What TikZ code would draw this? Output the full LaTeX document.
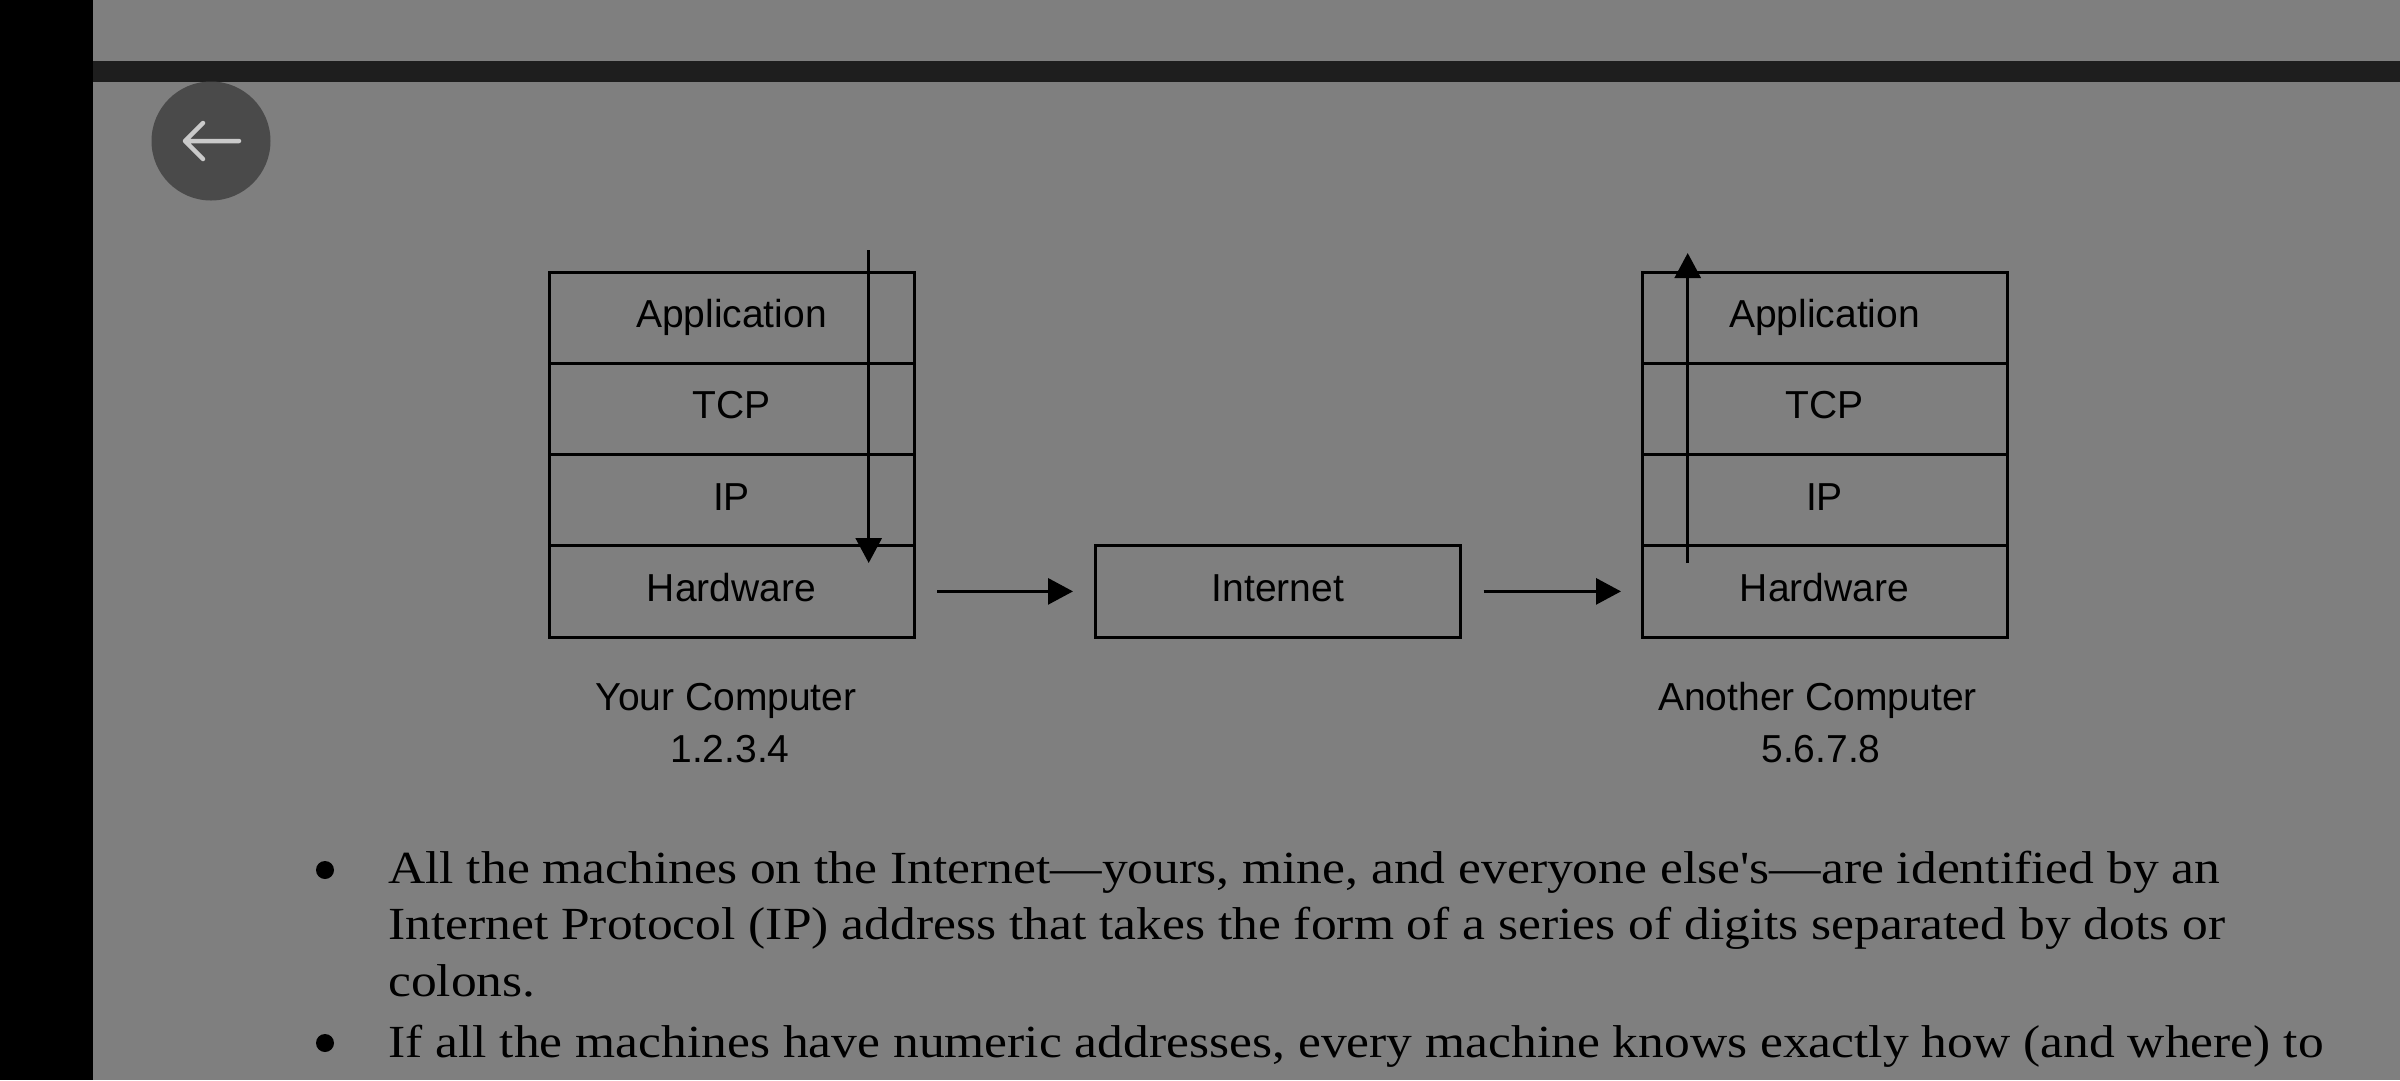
\documentclass[tikz,border=0pt]{standalone}
\usepackage{fontspec}
\setmainfont{Liberation Serif}
\newfontfamily\diagfont{Liberation Sans}
\newfontfamily\bodyfont[FakeStretch=1.12,Ligatures=TeXOff]{Liberation Serif}
\usetikzlibrary{arrows.meta}
\definecolor{pagebg}{HTML}{7F7F7F}
\definecolor{topbar}{HTML}{1E1E1E}
\definecolor{btnfill}{HTML}{4A4A4A}
\definecolor{btnicon}{HTML}{CACACA}
\begin{document}
\begin{tikzpicture}[x=1pt,y=-1pt,
  layer/.style={draw=black, line width=3pt, rectangle, minimum width=365pt,
    minimum height=91.25pt, inner sep=0pt, outer sep=0pt, anchor=north west,
    font=\diagfont\fontsize{39}{39}\selectfont, text height=28pt, text depth=8pt},
  caption/.style={font=\diagfont\fontsize{39}{39}\selectfont, anchor=base, inner sep=0pt},
  flow/.style={line width=3pt, -{Triangle[length=25pt,width=26pt]}},
  body/.style={font=\bodyfont\fontsize{46}{57}\selectfont, anchor=base west, inner sep=0pt},
  bul/.style={circle, fill=black, minimum size=18pt, inner sep=0pt}]

\useasboundingbox (0,0) rectangle (2400,1080);
\fill[pagebg] (0,0) rectangle (2400,1080);
\fill[black] (0,0) rectangle (93,1080);
\fill[topbar] (93,61) rectangle (2400,82);

% back button
\node[circle, fill=btnfill, minimum size=119pt, inner sep=0pt] (back) at (211,141) {};
\draw[btnicon, line width=4.5pt, line cap=round, line join=round]
  ([xshift=-26pt]back.center) -- ([xshift=28pt]back.center)
  ([xshift=-8pt,yshift=-18pt]back.center) -- ([xshift=-26pt]back.center)
  -- ([xshift=-8pt,yshift=18pt]back.center);

% your computer stack
\node[layer] (app1) at (549,272) {Application};
\node[layer] (tcp1) at (549,363.25) {TCP};
\node[layer] (ip1) at (549,454.5) {IP};
\node[layer] (hw1) at (549,545.75) {Hardware};

% internet
\node[layer, minimum width=365.6pt] (net) at (1095,545.75) {Internet};

% another computer stack
\node[layer] (app2) at (1642,272) {Application};
\node[layer] (tcp2) at (1642,363.25) {TCP};
\node[layer] (ip2) at (1642,454.5) {IP};
\node[layer] (hw2) at (1642,545.75) {Hardware};

% captions
\node[caption] (yourname) at (726,710) {Your Computer};
\node[caption] (youraddr) at (730,762) {1.2.3.4};
\node[caption] (othername) at (1817.5,710) {Another Computer};
\node[caption] (otheraddr) at (1821,762) {5.6.7.8};

% flows
\coordinate (sendtop) at (868.7,250);
\coordinate (sendtip) at (868.7,563);
\draw[flow] (sendtop) -- (sendtip);
\coordinate (recvfoot) at (1687.7,563);
\coordinate (recvtip) at (1687.7,253);
\draw[flow] (recvfoot) -- (recvtip);
\draw[flow, shorten <=23pt, shorten >=22pt] (hw1.east) -- (net.west);
\draw[flow, shorten <=23pt, shorten >=21pt] (net.east) -- (hw2.west);

% body text
\node[bul] (b1) at (325,870) {};
\node[body] (l1) at (388,883) {All the machines on the Internet—yours, mine, and everyone else's—are identified by an};
\node[body] (l2) at (388,939) {Internet Protocol (IP) address that takes the form of a series of digits separated by dots or};
\node[body] (l3) at (388,996) {colons.};
\node[bul] (b2) at (325,1043) {};
\node[body] (l4) at (388,1057) {If all the machines have numeric addresses, every machine knows exactly how (and where) to};
\end{tikzpicture}
\end{document}
